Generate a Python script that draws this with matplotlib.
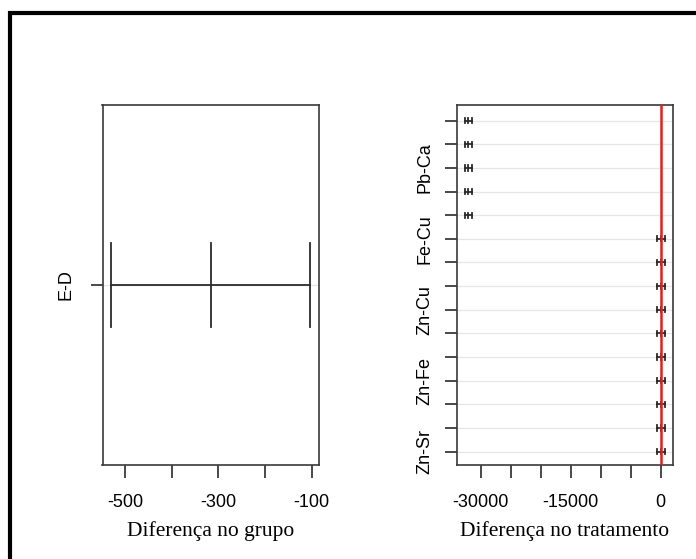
import matplotlib
matplotlib.use('Agg')
import matplotlib.pyplot as plt
from matplotlib.lines import Line2D

# ---- data ----
group_comparisons = ['E-D']
group_diff = [-316]
group_lwr = [-530]
group_upr = [-103]

treat_comparisons = ['Cu-Ca', 'Fe-Ca', 'Pb-Ca', 'Sr-Ca', 'Zn-Ca',
                     'Fe-Cu', 'Pb-Cu', 'Sr-Cu', 'Zn-Cu',
                     'Pb-Fe', 'Sr-Fe', 'Zn-Fe',
                     'Sr-Pb', 'Zn-Pb', 'Zn-Sr']
treat_diff = [-32050, -32050, -32050, -32050, -32050,
              50, 50, 50, 50, 50, 50, 50, 50, 50, 50]
treat_lwr = [-32600, -32600, -32600, -32600, -32600,
             -550, -550, -550, -550, -550, -550, -550, -550, -550, -550]
treat_upr = [-31500, -31500, -31500, -31500, -31500,
             650, 650, 650, 650, 650, 650, 650, 650, 650, 650]

group_xticks = [-500, -400, -300, -200, -100]
group_xticklabels = ['-500', '', '-300', '', '-100']
treat_xticks = [-30000, -25000, -20000, -15000, -10000, -5000, 0]
treat_xticklabels = ['-30000', '', '', '-15000', '', '', '0']

W, H = 696, 559
fig = plt.figure(figsize=(W / 100, H / 100), dpi=100)
fig.patch.set_facecolor('white')


def ax_at(x0, y0, x1, y1):
    return fig.add_axes([x0 / W, 1 - y1 / H, (x1 - x0) / W, (y1 - y0) / H])


SANS = 'Liberation Sans'
SERIF = 'Liberation Serif'
LINE = '#2b2b2b'
SPINE = '#3a3a3a'


def tukey_panel(ax, names, diff, lwr, upr, half, ylim, xlim, xticks, xticklabels,
                xlabel, show_every, ypad):
    n = len(names)
    ys = [n - i for i in range(n)]
    for y in ys:
        ax.axhline(y, color='#e6e6e6', lw=0.9, zorder=1)
    for y, d, lo, hi in zip(ys, diff, lwr, upr):
        ax.plot([lo, hi], [y, y], color=LINE, lw=1.3, zorder=3)
        for v in (lo, d, hi):
            ax.plot([v, v], [y - half, y + half], color=LINE, lw=1.3, zorder=3)
    ax.set_xlim(*xlim)
    ax.set_ylim(*ylim)
    ax.set_xticks(xticks)
    ax.set_xticklabels(xticklabels, fontfamily=SANS, fontsize=13)
    ax.set_yticks(ys)
    labs = [nm if (i % show_every) == (show_every - 1) or show_every == 1 else ''
            for i, nm in enumerate(names)]
    ax.set_yticklabels(labs, fontfamily=SANS, fontsize=13, rotation=90, va='center')
    ax.tick_params(axis='x', length=9, width=1.3, color=SPINE, pad=12)
    ax.tick_params(axis='y', length=9, width=1.3, color=SPINE, pad=ypad)
    for s in ax.spines.values():
        s.set_color(SPINE)
        s.set_linewidth(1.2)
    ax.set_xlabel(xlabel, fontfamily=SERIF, fontsize=15.5, labelpad=7)


ax1 = ax_at(102.5, 105, 319, 465)
tukey_panel(ax1, group_comparisons, group_diff, group_lwr, group_upr,
            half=0.125, ylim=(0.46, 1.54), xlim=(-548, -84.5),
            xticks=group_xticks, xticklabels=group_xticklabels,
            xlabel='Diferença no grupo', show_every=1, ypad=11)

ax2 = ax_at(457, 105, 673, 465)
tukey_panel(ax2, treat_comparisons, treat_diff, treat_lwr, treat_upr,
            half=0.11, ylim=(0.437, 15.66), xlim=(-33950, 2050),
            xticks=treat_xticks, xticklabels=treat_xticklabels,
            xlabel='Diferença no tratamento', show_every=3, ypad=8)
ax2.axvline(0, color='#e0201c', lw=1.8, zorder=4)

# frame lines at top and left of the image
fig.add_artist(Line2D([8 / W, 1], [1 - 13 / H, 1 - 13 / H], transform=fig.transFigure,
                      color='black', lw=3, solid_capstyle='butt'))
fig.add_artist(Line2D([10 / W, 10 / W], [1 - 11 / H, 0], transform=fig.transFigure,
                      color='black', lw=3, solid_capstyle='butt'))

fig.savefig('out.png', dpi=100)
